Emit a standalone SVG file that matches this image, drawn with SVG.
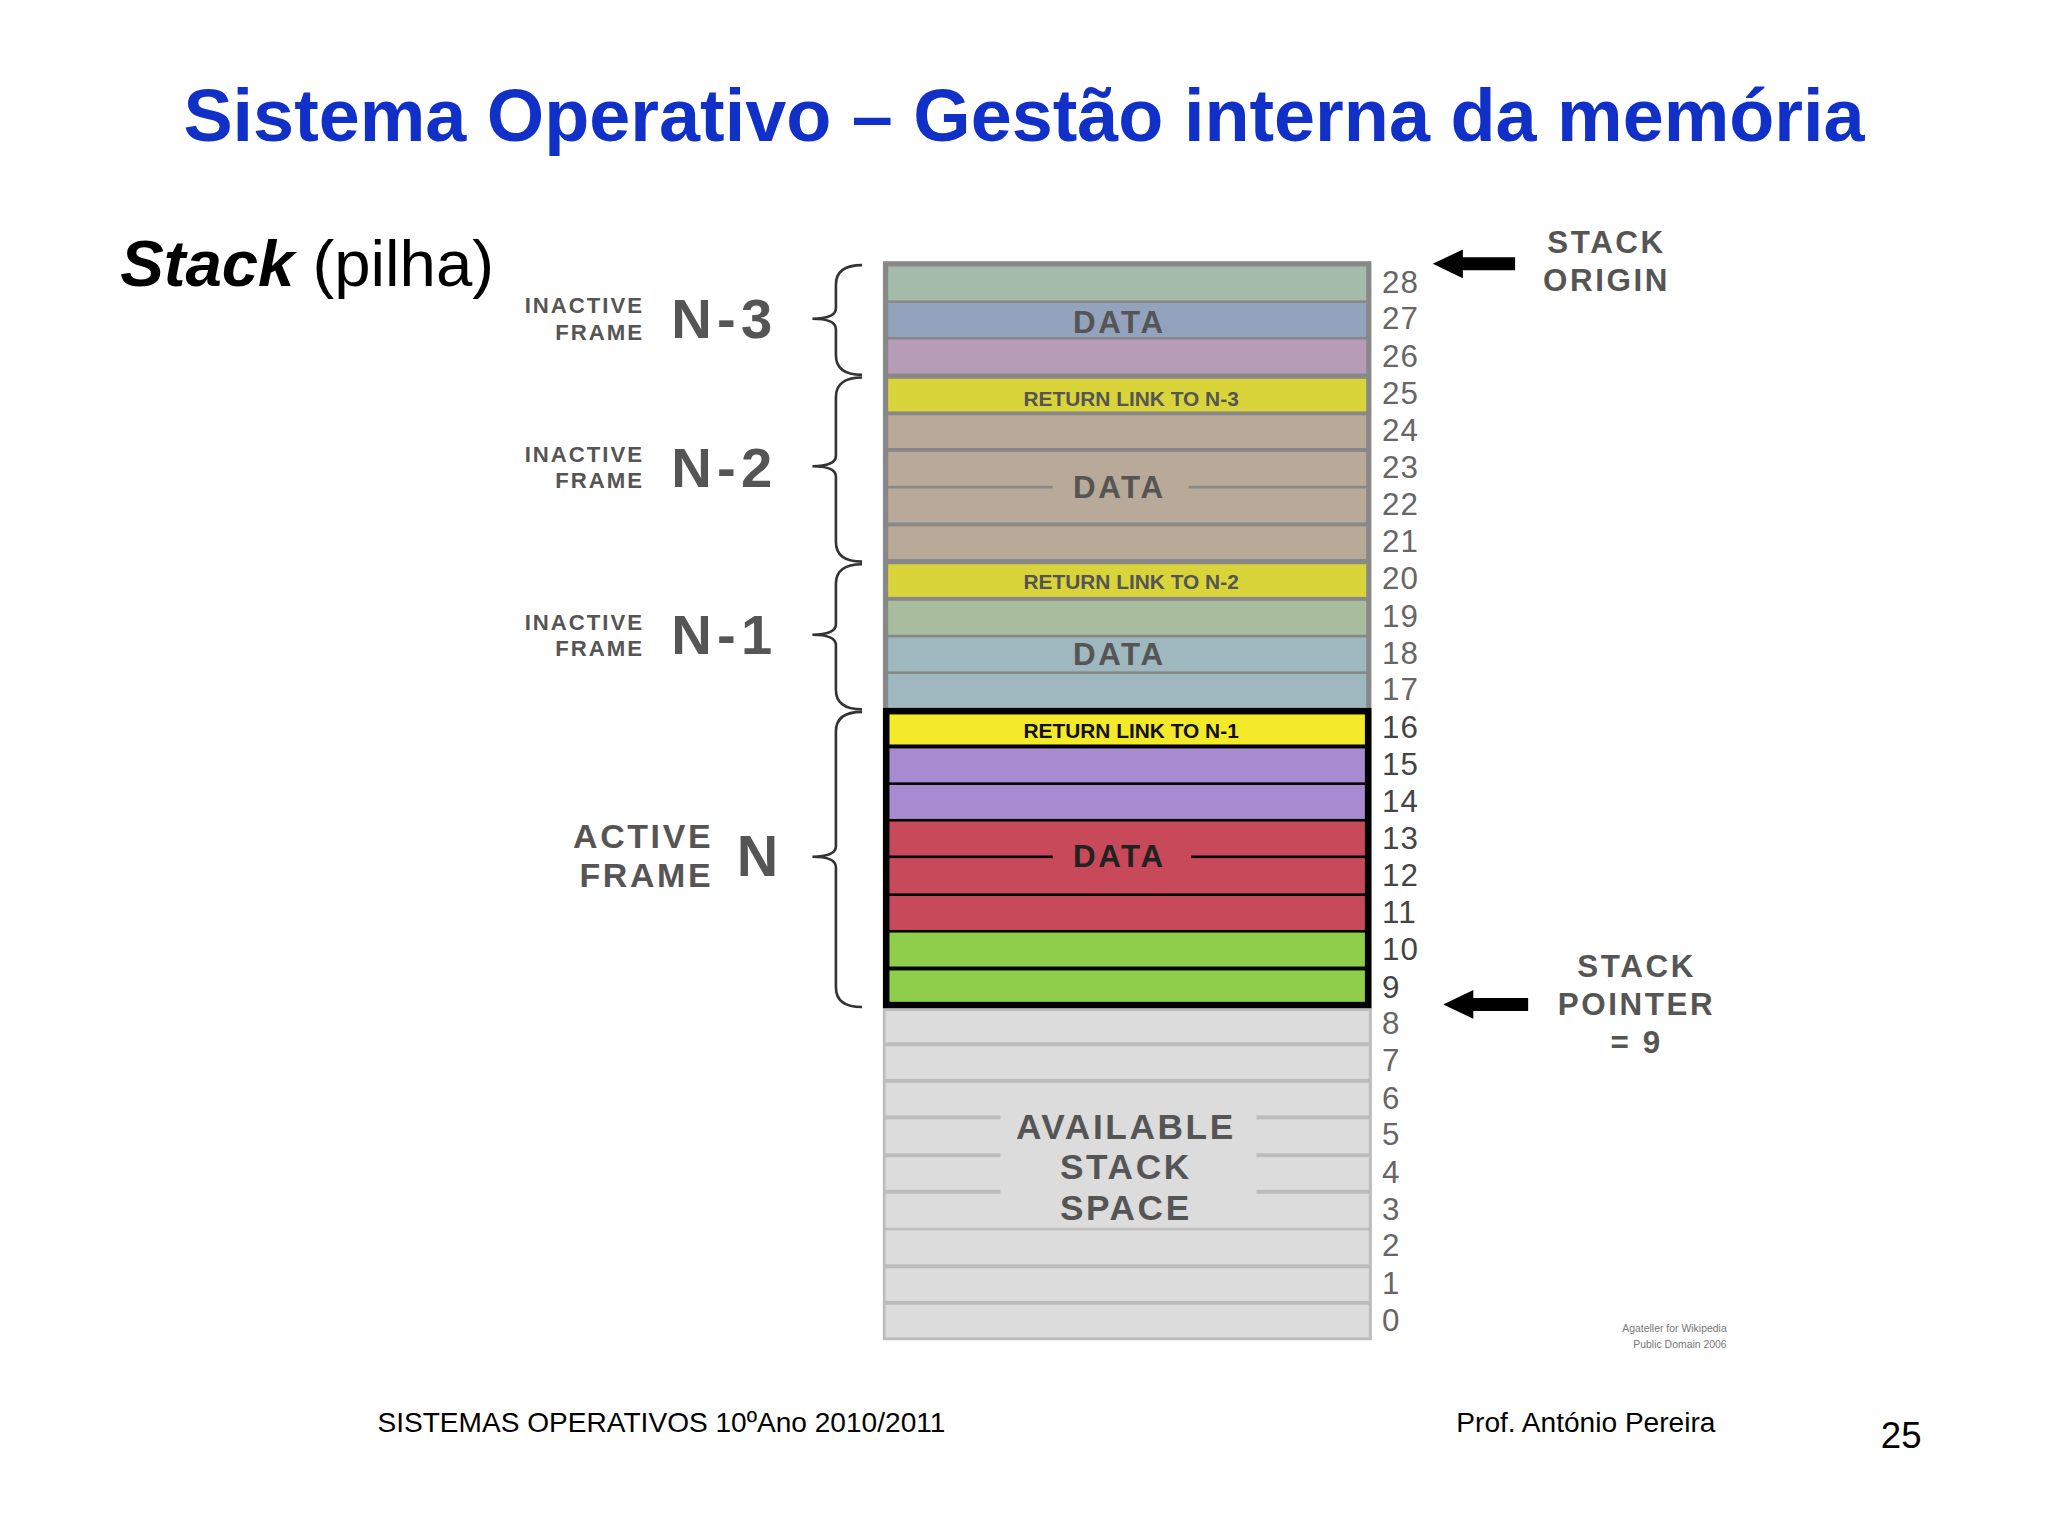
<svg xmlns="http://www.w3.org/2000/svg" width="2048" height="1536" viewBox="0 0 2048 1536">
<defs>
<style>
.t{font-family:"Liberation Sans",Arial,sans-serif}
.lbl{font-family:"Liberation Sans",Arial,sans-serif;font-weight:bold;fill:#555}
.num{font-family:"Liberation Sans",Arial,sans-serif;font-size:24px;fill:#666;letter-spacing:1px}
.brace{fill:none;stroke:#333;stroke-width:2}
.small{letter-spacing:1.5px}
.big{letter-spacing:4px}
.side{letter-spacing:2px}
</style>
</defs>
<rect width="2048" height="1536" fill="#fff"/>
<g transform="scale(1.30612)">
<text class="t" x="784" y="108" text-anchor="middle" font-size="56.5" font-weight="bold" fill="#1030c8">Sistema Operativo – Gestão interna da memória</text>
<text class="t" x="92" y="219" font-size="50" fill="#000"><tspan font-weight="bold" font-style="italic">Stack</tspan> (pilha)</text>

<g id="stack">
<rect x="676" y="200" width="374" height="826" fill="#888"/>
<rect x="680" y="204" width="366" height="26" fill="#a3bba8"/>
<rect x="680" y="232" width="366" height="26" fill="#93a3bd"/>
<rect x="680" y="260" width="366" height="26" fill="#b79cb8"/>
<rect x="680" y="290" width="366" height="25" fill="#d9d43a"/>
<rect x="680" y="318" width="366" height="25" fill="#b8a998"/>
<rect x="680" y="346" width="366" height="26" fill="#b8a998"/>
<rect x="680" y="374" width="366" height="26" fill="#b8a998"/>
<rect x="680" y="403" width="366" height="25" fill="#b8a998"/>
<rect x="680" y="432" width="366" height="25" fill="#d9d43a"/>
<rect x="680" y="460" width="366" height="26" fill="#a8bc9e"/>
<rect x="680" y="488" width="366" height="26" fill="#9fb8bf"/>
<rect x="680" y="516" width="366" height="26" fill="#9fb8bf"/>
<g id="active">
<rect x="676" y="542" width="374" height="230" fill="#000"/>
<rect x="681" y="547" width="364" height="23" fill="#f5ea2a"/>
<rect x="681" y="573" width="364" height="26" fill="#a78ad0"/>
<rect x="681" y="601" width="364" height="26" fill="#a78ad0"/>
<rect x="681" y="629" width="364" height="26" fill="#c84a5a"/>
<rect x="681" y="657" width="364" height="27" fill="#c84a5a"/>
<rect x="681" y="686" width="364" height="26" fill="#c84a5a"/>
<rect x="681" y="714" width="364" height="26" fill="#8fce4a"/>
<rect x="681" y="743" width="364" height="24" fill="#8fce4a"/>
</g>
<rect x="676" y="772" width="374" height="254" fill="#bcbcbc"/>
<g fill="#dcdcdc">
<rect x="678" y="774" width="370" height="24"/>
<rect x="678" y="801" width="370" height="25"/>
<rect x="678" y="829" width="370" height="25"/>
<rect x="678" y="857" width="370" height="26"/>
<rect x="678" y="886" width="370" height="25"/>
<rect x="678" y="914" width="370" height="26"/>
<rect x="678" y="942" width="370" height="26"/>
<rect x="678" y="971" width="370" height="25"/>
<rect x="678" y="999" width="370" height="25"/>
</g>
<rect x="766" y="845" width="196" height="90" fill="#dcdcdc"/>
<rect x="806" y="360" width="104" height="26" fill="#b8a998"/>
<rect x="806" y="642" width="106" height="26" fill="#c84a5a"/>
<g class="lbl" text-anchor="middle">
<text x="857" y="255" font-size="24" class="lbl side">DATA</text>
<text x="866" y="311" font-size="16">RETURN LINK TO N-3</text>
<text x="857" y="381" font-size="24" class="lbl side">DATA</text>
<text x="866" y="451" font-size="16">RETURN LINK TO N-2</text>
<text x="857" y="509" font-size="24" class="lbl side">DATA</text>
<text x="866" y="565" font-size="16" fill="#111">RETURN LINK TO N-1</text>
<text x="857" y="664" font-size="24" fill="#222" class="side">DATA</text>
<text x="862" y="872" font-size="27" class="side">AVAILABLE</text>
<text x="862" y="903" font-size="27" class="side">STACK</text>
<text x="862" y="934" font-size="27" class="side">SPACE</text>
</g>
</g>

<g id="numbers" class="num">
<text x="1058" y="224">28</text><text x="1058" y="252">27</text><text x="1058" y="281">26</text>
<text x="1058" y="309">25</text><text x="1058" y="338">24</text><text x="1058" y="366">23</text>
<text x="1058" y="394">22</text><text x="1058" y="423">21</text><text x="1058" y="451">20</text>
<text x="1058" y="480">19</text><text x="1058" y="508">18</text><text x="1058" y="536">17</text>
<g fill="#444"><text x="1058" y="565">16</text><text x="1058" y="593">15</text><text x="1058" y="622">14</text>
<text x="1058" y="650">13</text><text x="1058" y="678">12</text><text x="1058" y="707">11</text>
<text x="1058" y="735">10</text><text x="1058" y="764">9</text></g>
<text x="1058" y="792">8</text><text x="1058" y="820">7</text><text x="1058" y="849">6</text>
<text x="1058" y="877">5</text><text x="1058" y="906">4</text><text x="1058" y="934">3</text>
<text x="1058" y="962">2</text><text x="1058" y="991">1</text><text x="1058" y="1019">0</text>
</g>

<g id="frames">
<g id="f3"><text class="lbl small" x="493" y="240" font-size="17" text-anchor="end">INACTIVE</text><text class="lbl small" x="493" y="260" font-size="17" text-anchor="end">FRAME</text><text class="lbl big" x="514" y="259" font-size="43" fill="#444">N-3</text></g>
<g id="f2"><text class="lbl small" x="493" y="354" font-size="17" text-anchor="end">INACTIVE</text><text class="lbl small" x="493" y="374" font-size="17" text-anchor="end">FRAME</text><text class="lbl big" x="514" y="373" font-size="43" fill="#444">N-2</text></g>
<g id="f1"><text class="lbl small" x="493" y="482" font-size="17" text-anchor="end">INACTIVE</text><text class="lbl small" x="493" y="502" font-size="17" text-anchor="end">FRAME</text><text class="lbl big" x="514" y="501" font-size="43" fill="#444">N-1</text></g>
<g id="f0"><text class="lbl side" x="546" y="649" font-size="26" text-anchor="end" fill="#222">ACTIVE</text><text class="lbl side" x="546" y="679" font-size="26" text-anchor="end" fill="#222">FRAME</text><text class="lbl" x="564" y="671" font-size="44" fill="#111">N</text></g>
</g>

<g id="connectors">
<path class="brace" d="M660 203 Q640 203 640 218 L640 236 Q640 244 622 244 Q640 244 640 252 L640 272 Q640 287 660 287"/>
<path class="brace" d="M660 289 Q640 289 640 304 L640 349 Q640 357 622 357 Q640 357 640 365 L640 415 Q640 430 660 430"/>
<path class="brace" d="M660 432 Q640 432 640 447 L640 478 Q640 486 622 486 Q640 486 640 494 L640 528 Q640 543 660 543"/>
<path class="brace" d="M660 545 Q640 545 640 560 L640 648 Q640 656 622 656 Q640 656 640 664 L640 756 Q640 771 660 771"/>
<path d="M1160 197 L1120 197 L1120 191 L1097 202 L1120 213 L1120 207 L1160 207 Z" fill="#000"/>
<path d="M1170 764 L1128 764 L1128 758 L1105 769 L1128 780 L1128 774 L1170 774 Z" fill="#000"/>
</g>

<g id="origin" class="lbl side" fill="#333" text-anchor="middle" font-size="24">
<text x="1230" y="194">STACK</text><text x="1230" y="223">ORIGIN</text>
</g>
<g id="pointer" class="lbl side" fill="#222" text-anchor="middle" font-size="24">
<text x="1253" y="748">STACK</text><text x="1253" y="777">POINTER</text><text x="1253" y="806">= 9</text>
</g>
<g class="t" font-size="8" fill="#777" text-anchor="end">
<text x="1322" y="1020">Agateller for Wikipedia</text><text x="1322" y="1032">Public Domain 2006</text>
</g>
<g class="t" font-size="21.5" fill="#000">
<text x="289" y="1096">SISTEMAS OPERATIVOS 10ºAno 2010/2011</text>
<text x="1115" y="1096">Prof. António Pereira</text>
<text x="1440" y="1109" font-size="28">25</text>
</g>
</g>
</svg>
